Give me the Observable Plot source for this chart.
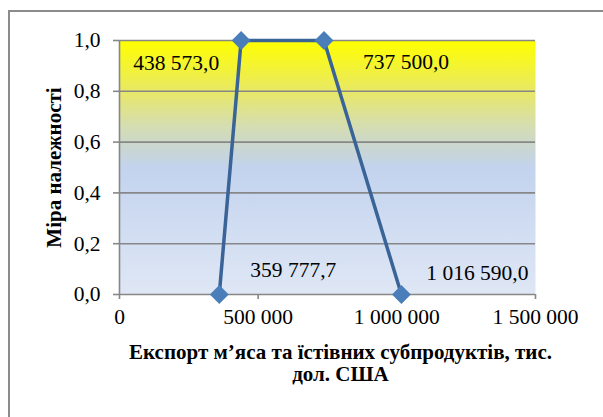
<!DOCTYPE html>
<html><head><meta charset="utf-8">
<script src="https://cdn.jsdelivr.net/npm/d3@7"></script>
<script src="https://cdn.jsdelivr.net/npm/@observablehq/plot@0.6"></script>
<style>
body{margin:0;background:#fff;overflow:hidden;}
#wrap{position:relative;width:603px;height:417px;overflow:hidden;}
#border{position:absolute;left:8px;top:10px;width:700px;height:600px;border:2px solid #8c8c8c;box-sizing:border-box;}
#wrap svg{position:absolute;left:0;top:0;}
</style></head><body><div id="wrap"><div id="border"></div></div>
<script>
const exportValues = [359777.7, 438573.0, 737500.0, 1016590.0];
const membership = [0, 1, 1, 0];
const pointLabels = ["359 777,7", "438 573,0", "737 500,0", "1 016 590,0"];
const xTicks = [0, 500000, 1000000, 1500000];
const xTickLabels = ["0", "500 000", "1 000 000", "1 500 000"];
const yTicks = [0, 0.2, 0.4, 0.6, 0.8, 1.0];
const yTickLabels = ["0,0", "0,2", "0,4", "0,6", "0,8", "1,0"];
const xTitle = "Експорт м’яса та їстівних субпродуктів, тис.\nдол. США";
const yTitle = "Міра належності";

const data = exportValues.map((x, i) => ({x, y: membership[i], label: pointLabels[i]}));
const labelOffsets = [[74, -24], [-65, 23], [82, 22], [76, -21]];
const gridColor = "#878787";
const serif = "Liberation Serif";
const numSize = 21.5;

const labelMarks = data.map((d, i) => Plot.text([d], {
  x: "x", y: "y", text: "label", dx: labelOffsets[i][0], dy: labelOffsets[i][1],
  fontSize: numSize, fontFamily: serif, fill: "#000"
}));

const chart = Plot.plot({
  width: 603, height: 417,
  marginLeft: 119, marginRight: 68, marginTop: 40, marginBottom: 123,
  style: {fontFamily: serif, fontSize: "20px", color: "#000", background: "transparent", overflow: "visible"},
  x: {domain: [0, 1500000]},
  y: {domain: [0, 1]},
  marks: [
    Plot.frame({fill: "#ffff00"}),
    Plot.ruleY(yTicks, {stroke: gridColor, strokeWidth: 1.6}),
    Plot.ruleX([0], {stroke: gridColor, strokeWidth: 1.6}),
    Plot.axisY(yTicks, {tickSize: 6, tickPadding: 13, stroke: gridColor, strokeWidth: 1.6, fill: "#000", fontSize: numSize, fontFamily: serif,
      tickFormat: d => yTickLabels[yTicks.indexOf(d)], label: null}),
    Plot.axisX(xTicks, {tickSize: 5, tickPadding: 9, stroke: gridColor, strokeWidth: 1.6, fill: "#000", fontSize: numSize, fontFamily: serif,
      tickFormat: d => xTickLabels[xTicks.indexOf(d)], label: null}),
    Plot.line(data, {x: "x", y: "y", stroke: "#3A6398", strokeWidth: 3.5}),
    Plot.dot(data, {x: "x", y: "y", symbol: "diamond2", r: 8.5, fill: "#4A7EBB", stroke: "none"}),
    ...labelMarks,
    Plot.text([xTitle], {frameAnchor: "bottom", dx: 13, dy: 49, lineAnchor: "top", lineHeight: 1.05,
      fontWeight: "bold", fontSize: 21, fontFamily: serif, fill: "#000"}),
    Plot.text([yTitle], {frameAnchor: "middle", dx: -273, rotate: -90, textAnchor: "middle",
      fontWeight: "bold", fontSize: 21, fontFamily: serif, fill: "#000"})
  ]
});

document.getElementById("wrap").appendChild(chart);

const svg = d3.select(chart);
const defs = svg.insert("defs", ":first-child");
const grad = defs.append("linearGradient").attr("id", "bg").attr("x1", 0).attr("y1", 0).attr("x2", 0).attr("y2", 1);
[[0, "#FFFF00"], [0.08, "#F6F628"], [0.2, "#E8E866"], [0.33, "#D6DEAE"], [0.42, "#CAD6D0"], [0.5, "#C3D3EE"], [1, "#DFE7F5"]]
  .forEach(([o, c]) => grad.append("stop").attr("offset", o).attr("stop-color", c));
svg.selectAll('[aria-label="frame"]').each(function() {
  const el = d3.select(this);
  if (this.tagName === "rect") el.attr("fill", "url(#bg)");
  el.selectAll("rect").attr("fill", "url(#bg)");
});
</script></body></html>
